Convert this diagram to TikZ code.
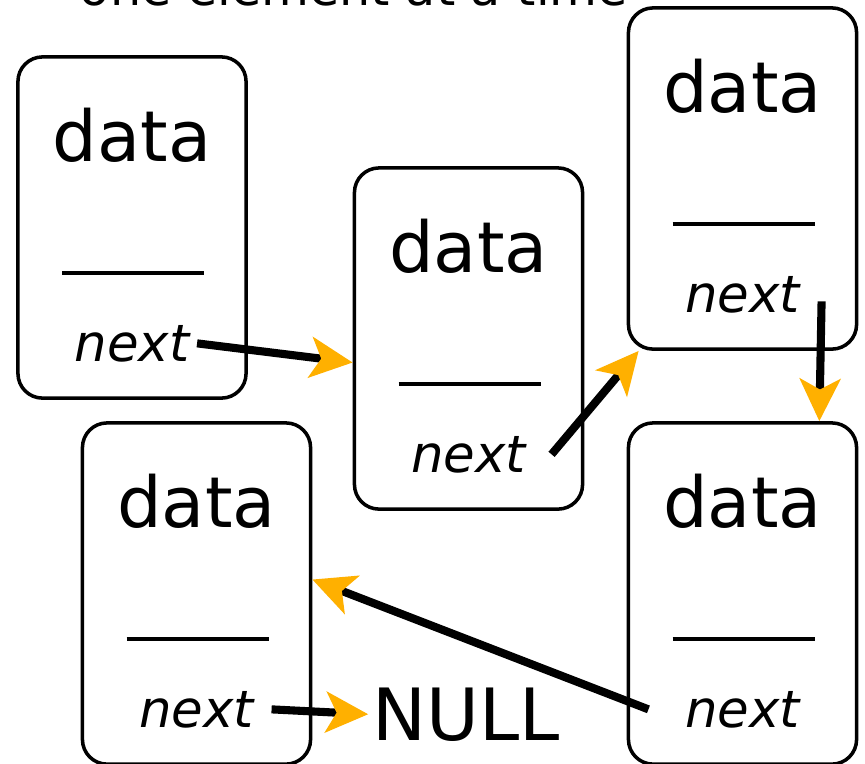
\documentclass[tikz,border=0pt]{standalone}
\usepackage{fontspec}
\setmainfont{DejaVu Sans}
\usetikzlibrary{arrows.meta}

\definecolor{tipgold}{RGB}{255,176,0}

\begin{document}
\begin{tikzpicture}[
  x=0.01cm, y=-0.01cm,
  cell/.style={draw, line width=1pt, rounded corners=7pt,
    minimum width=2.28cm, minimum height=3.41cm, inner sep=0pt},
  datatext/.style={font=\fontsize{20}{24}\selectfont, inner sep=0pt, anchor=base},
  nexttext/.style={font=\fontsize{14.6}{18}\selectfont\itshape, inner sep=2pt, anchor=base},
  rule/.style={line width=0.9pt},
  link/.style={line width=2.3pt,
    -{Stealth[color=tipgold, length=12pt, width=11.5pt, inset=3pt]}},
]
\clip (0,0) rectangle (865,763);

% caption line, mostly above the page
\node[font=\fontsize{14}{17}\selectfont, inner sep=0pt, anchor=base]
  (caption) at (354,5) {one element at a time};

% the five list cells: data, a rule, then the next field
\foreach \name/\cx/\top in {A/132/57, B/468.5/168, C/742.5/8, D/196.5/423, E/742.5/423} {
  \node[cell] (box\name) at (\cx,\top+170.5) {};
  \node[datatext] (dt\name) at (\cx,\top+104) {data};
  \draw[rule] (\cx-70,\top+216) -- (\cx+72,\top+216);
  \node[nexttext] (nx\name) at (\cx,\top+304) {next};
}

\node[font=\fontsize{20.5}{24}\selectfont, inner sep=1pt, anchor=base] (null) at (466,740) {NULL};

% the pointers
\draw[link] (nxA.east) -- ([yshift=-0.24cm]boxB.west);
\draw[link] ([xshift=0.18cm]nxB.east) -- ([xshift=0.12cm]boxC.south west);
\draw[link] ([xshift=0.14cm,yshift=-0.07cm]nxC.east) -- ([xshift=-0.39cm]boxE.north east);
\draw[link] ([xshift=-0.29cm]nxE.west) -- ([yshift=0.14cm]boxD.east);
\draw[link] ([xshift=0.1cm]nxD.east) -- (null.west);

\end{tikzpicture}
\end{document}
